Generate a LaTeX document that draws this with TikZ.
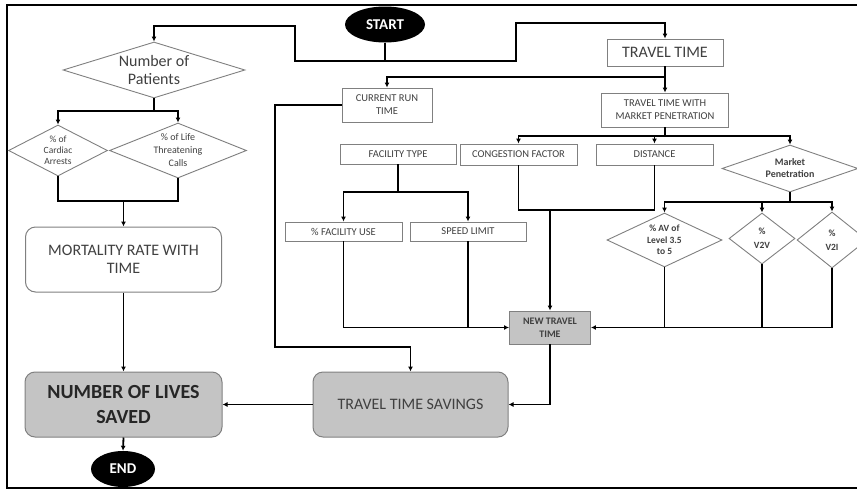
\documentclass[tikz,border=0pt]{standalone}
\usepackage{fontspec}
\setmainfont{Carlito}
\usetikzlibrary{shapes.geometric, arrows.meta}
\definecolor{boxgray}{RGB}{196,196,196}
\definecolor{edgegray}{RGB}{128,128,128}
\definecolor{inkgray}{RGB}{64,64,64}

\begin{document}
\begin{tikzpicture}[
  x=1pt, y=-1pt,
  proc/.style={rectangle, draw=edgegray, line width=0.9pt, fill=white, inner sep=1pt, align=center, text=inkgray, font=\fontsize{10.5}{13}\selectfont},
  bigbox/.style={rectangle, draw=edgegray, line width=1pt, rounded corners=10pt, minimum width=196pt, minimum height=65pt, align=center, text=inkgray, font=\fontsize{16}{18}\selectfont},
  decision/.style={diamond, draw=edgegray, line width=0.9pt, fill=white, inner sep=0pt},
  diamtext/.style={align=center, text=inkgray, inner sep=0pt},
  terminal/.style={ellipse, fill=black, text=white, inner sep=0pt, font=\bfseries\fontsize{15}{18}\selectfont},
  link/.style={line width=1.8pt, black},
  flow/.style={link, -{Latex[length=5pt, width=5pt]}}
]
  \useasboundingbox (0,0) rectangle (857,490);
  \clip (0,0) rectangle (857,490);
  \draw[line width=1.5pt] (857,5) -- (7,5) -- (7,488) -- (857,488);

  \node[terminal, minimum width=80pt, minimum height=36pt] (start) at (385,24.5) {START};
  \node[terminal, minimum width=64pt, minimum height=36pt] (endn) at (123,469) {END};

  \node[decision, minimum width=182pt, minimum height=56pt, label={[diamtext, font=\fontsize{16}{18}\selectfont]center:{Number of\\Patients}}] (nop) at (154,70) {};
  \node[decision, minimum width=99pt, minimum height=51pt, label={[diamtext, font=\fontsize{9.5}{11}\selectfont]center:{\% of\\Cardiac\\Arrests}}] (card) at (58,150.5) {};
  \node[decision, minimum width=137pt, minimum height=55pt, label={[diamtext, font=\fontsize{10}{13}\selectfont]center:{\% of Life\\Threatening\\Calls}}] (life) at (178,150.5) {};

  \node[bigbox, fill=white] (mrwt) at (123.5,259.5) {MORTALITY RATE WITH\\TIME};
  \node[bigbox, fill=boxgray, minimum width=197pt, text=black!85, font=\bfseries\fontsize{20}{25}\selectfont] (nols) at (123.5,404.5) {NUMBER OF LIVES\\SAVED};
  \node[bigbox, fill=boxgray, minimum width=195pt] (tts) at (410.5,404.5) {TRAVEL TIME SAVINGS};

  \node[proc, minimum width=116pt, minimum height=27pt, font=\fontsize{16}{18}\selectfont] (tt) at (665,52.5) {TRAVEL TIME};
  \node[proc, minimum width=90pt, minimum height=34pt] (crt) at (387,105) {CURRENT RUN\\TIME};
  \node[proc, minimum width=127pt, minimum height=34pt] (ttwmp) at (665,110) {TRAVEL TIME WITH\\MARKET PENETRATION};
  \node[proc, minimum width=116pt, minimum height=20pt] (fac) at (398,154) {FACILITY TYPE};
  \node[proc, minimum width=117pt, minimum height=21pt] (cong) at (518.5,154.5) {CONGESTION FACTOR};
  \node[proc, minimum width=117pt, minimum height=21pt] (dist) at (654.5,154.5) {DISTANCE};
  \node[decision, minimum width=136pt, minimum height=47pt, label={[diamtext, font=\bfseries\fontsize{10}{12}\selectfont]center:{Market\\Penetration}}] (mkt) at (790,168.5) {};
  \node[proc, minimum width=117pt, minimum height=19pt] (fuse) at (343.5,231.5) {\% FACILITY USE};
  \node[proc, minimum width=116pt, minimum height=19pt] (speed) at (468,231.5) {SPEED LIMIT};
  \node[decision, minimum width=115pt, minimum height=54pt, label={[diamtext, font=\bfseries\fontsize{9.5}{11.5}\selectfont]center:{\% AV of\\Level 3.5\\to 5}}] (av) at (664.5,240) {};
  \node[decision, minimum width=66pt, minimum height=51pt, label={[diamtext, font=\bfseries\fontsize{9.5}{14}\selectfont]center:{\%\\V2V}}] (v2v) at (762,238.5) {};
  \node[decision, minimum width=70pt, minimum height=56pt, label={[diamtext, font=\bfseries\fontsize{9.5}{14}\selectfont]center:{\%\\V2I}}] (v2i) at (832,240) {};
  \node[proc, fill=boxgray, minimum width=81pt, minimum height=33pt, font=\bfseries\fontsize{10}{13}\selectfont] (ntt) at (550,327.5) {NEW TRAVEL\\TIME};

  \coordinate (sl) at (295,61);
  \coordinate (slt) at (295,26);
  \coordinate (sr) at (516,61);
  \coordinate (srt) at (516,23);
  \draw[flow] (start.south) |- (sl) -- (slt) -| (nop.north);
  \draw[flow] (start.south) |- (sr) -- (srt) -| (tt.north);

  \coordinate (tj) at (665,77);
  \draw[flow] (tt.south) -- (ttwmp.north);
  \draw[flow] (tj) -| (crt.north);
  \coordinate (cr) at (275,347);
  \draw[flow] (crt.west) -| (cr) -| (tts.north);

  \coordinate (mj) at (665,136);
  \draw[link] (ttwmp.south) -- (mj);
  \foreach \n in {cong,dist,mkt} \draw[flow] (mj) -| (\n.north);

  \coordinate (fj) at (398,192);
  \draw[link] (fac.south) -- (fj);
  \foreach \n in {fuse,speed} \draw[flow] (fj) -| (\n.north);

  \coordinate (cd) at (550,210);
  \draw[link] (cong.south) |- (cd) -| (dist.south);
  \draw[flow] (cd) -- (ntt.north);
  \draw[flow] (fuse.south) |- (ntt.west);
  \draw[link] (speed.south) -- (speed.south |- ntt.west);

  \coordinate (kj) at (790,202);
  \draw[link] (mkt.south) -- (kj);
  \foreach \n in {av,v2v,v2i} \draw[flow] (kj) -| (\n.north);
  \draw[flow] (v2i.south) |- (ntt.east);
  \foreach \n in {av,v2v} \draw[link] (\n.south) -- (\n.south |- ntt.east);

  \draw[flow] (ntt.south) |- (tts.east);
  \draw[flow] (tts.west) -- (nols.east);
  \draw[flow] (mrwt.south) -- (nols.north);
  \draw[flow] (nols.south) -- (endn.north);

  \coordinate (pj) at (154,111);
  \draw[link] (nop.south) -- (pj);
  \foreach \n in {card,life} \draw[flow] (pj) -| (\n.north);
  \coordinate (lj) at (123.5,201);
  \draw[link] (card.south) |- (lj) -| (life.south);
  \draw[flow] (lj) -- (mrwt.north);
\end{tikzpicture}
\end{document}
